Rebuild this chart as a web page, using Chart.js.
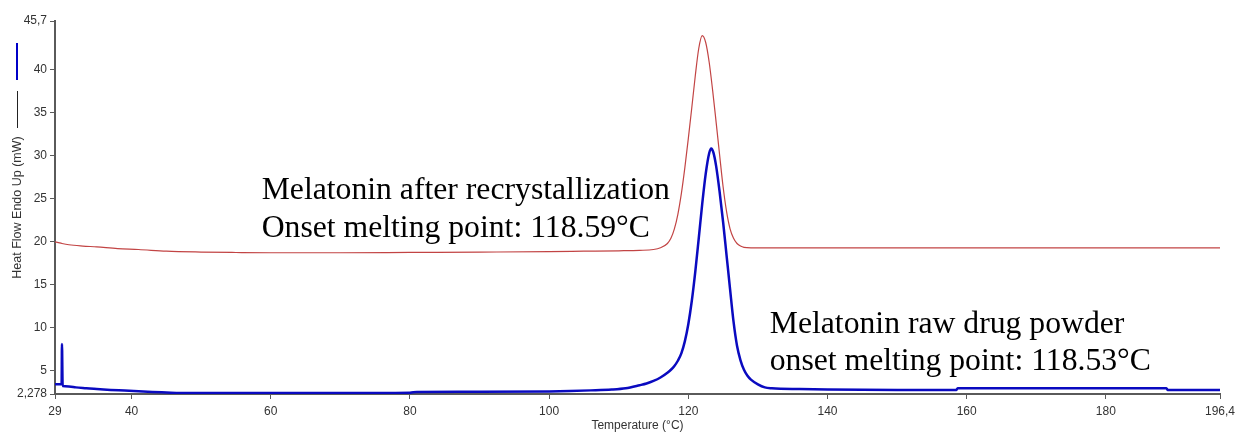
<!DOCTYPE html>
<html>
<head>
<meta charset="utf-8">
<script src="https://cdn.jsdelivr.net/npm/chart.js@4.4.1/dist/chart.umd.min.js"></script>
<style>
  html, body { margin: 0; padding: 0; background: #ffffff; }
  #wrap { width: 1237px; height: 432px; position: relative; }
</style>
</head>
<body>
<div id="wrap"><canvas id="c" width="1237" height="432"></canvas></div>
<script>
// ---- data ----
const xTickValues = [29, 40, 60, 80, 100, 120, 140, 160, 180, 196.4];
const yTickValues = [2.278, 5, 10, 15, 20, 25, 30, 35, 40, 45.7];

const recrystTemp = [29, 29.5, 30, 31, 33, 35, 38, 41, 45, 50, 55, 60, 70, 80, 90, 100, 105, 110, 113, 115, 116, 117, 117.5, 118, 118.5, 119, 119.5, 120, 120.5, 121, 121.5, 122, 122.5, 123, 123.5, 124, 124.5, 125, 125.5, 126, 126.5, 127, 127.5, 128, 129, 130, 140, 160, 180, 196.4];
const recrystHeat = [20.0, 19.9, 19.8, 19.65, 19.5, 19.4, 19.2, 19.1, 18.9, 18.8, 18.75, 18.72, 18.72, 18.76, 18.8, 18.85, 18.9, 18.95, 19.0, 19.1, 19.3, 19.8, 20.4, 21.5, 23.2, 25.6, 28.6, 32.0, 35.6, 39.3, 42.5, 44.0, 43.2, 40.9, 37.6, 33.9, 30.1, 26.4, 23.5, 21.5, 20.4, 19.8, 19.5, 19.35, 19.3, 19.3, 19.3, 19.3, 19.3, 19.3];

const rawTemp = [29, 29.95, 30.0, 30.1, 31, 32, 33.5, 35, 37, 39, 41, 43, 45, 47, 55, 65, 75, 80, 81, 90, 100, 103, 106, 109, 111, 113, 114, 115, 116, 117, 117.5, 118, 118.5, 119, 119.5, 120, 120.5, 121, 121.5, 122, 122.5, 123, 123.3, 123.6, 124, 124.5, 125, 125.5, 126, 126.5, 127, 127.5, 128, 128.5, 129, 130, 131, 132, 136, 140, 150, 158.5, 158.7, 188.7, 188.9, 196.4];
const rawHeat = [3.4, 3.4, 8.1, 3.2, 3.15, 3.05, 2.95, 2.85, 2.75, 2.68, 2.6, 2.52, 2.46, 2.4, 2.4, 2.4, 2.4, 2.42, 2.52, 2.53, 2.58, 2.63, 2.7, 2.8, 2.95, 3.3, 3.5, 3.8, 4.2, 4.75, 5.1, 5.55, 6.15, 7.0, 8.4, 10.4, 13.1, 16.5, 20.4, 24.4, 27.9, 30.3, 30.85, 30.4, 28.8, 25.8, 22.3, 18.4, 14.5, 10.7, 7.9, 6.2, 5.1, 4.4, 3.95, 3.4, 3.05, 2.95, 2.85, 2.8, 2.75, 2.75, 2.95, 2.95, 2.75, 2.75];

const recrystLabel = ["Melatonin after recrystallization", "Onset melting point: 118.59°C"];
const rawLabel = ["Melatonin raw drug powder", "onset melting point: 118.53°C"];
const xTitle = "Temperature (°C)";
const yTitle = "Heat Flow Endo Up (mW)";

// ---- build ----
const toPts = (xs, ys) => xs.map((x, i) => ({ x: x, y: ys[i] }));
const fmt = v => String(v).replace('.', ',');

const annotations = [
  { lines: recrystLabel, x: 58.7, y: 25.9 },
  { lines: rawLabel, x: 131.7, y: 10.4 }
];

const annotPlugin = {
  id: 'annot',
  afterDatasetsDraw(chart) {
    const ctx = chart.ctx;
    const xs = chart.scales.x, ys = chart.scales.y;
    ctx.save();
    ctx.fillStyle = '#000';
    ctx.font = '31.7px "Liberation Serif", "Times New Roman", serif';
    ctx.textBaseline = 'middle';
    ctx.textAlign = 'left';
    annotations.forEach(a => {
      const px = xs.getPixelForValue(a.x);
      const py = ys.getPixelForValue(a.y);
      a.lines.forEach((t, i) => ctx.fillText(t, px, py + i * 37.5));
    });
    ctx.restore();
  },
  afterDraw(chart) {
    // legend marks beside the y-axis title
    const ctx = chart.ctx;
    ctx.save();
    ctx.lineCap = 'butt';
    ctx.strokeStyle = '#0000c8';
    ctx.lineWidth = 2;
    ctx.beginPath(); ctx.moveTo(17, 43); ctx.lineTo(17, 80); ctx.stroke();
    ctx.strokeStyle = '#222';
    ctx.lineWidth = 1;
    ctx.beginPath(); ctx.moveTo(17.5, 91); ctx.lineTo(17.5, 128); ctx.stroke();
    ctx.restore();
  }
};

const tickFont = { family: 'Liberation Sans, Arial', size: 12 };

new Chart(document.getElementById('c'), {
  type: 'line',
  data: {
    datasets: [
      {
        label: 'Melatonin after recrystallization',
        data: toPts(recrystTemp, recrystHeat),
        borderColor: '#c24444',
        borderWidth: 1.2,
        pointRadius: 0,
        fill: false,
        cubicInterpolationMode: 'monotone'
      },
      {
        label: 'Melatonin raw drug powder',
        data: toPts(rawTemp, rawHeat),
        borderColor: '#0a0ac0',
        borderWidth: 2.5,
        pointRadius: 0,
        fill: false,
        cubicInterpolationMode: 'monotone'
      }
    ]
  },
  options: {
    responsive: false,
    animation: false,
    layout: { padding: { top: 21, right: 17, left: 0, bottom: 0 } },
    plugins: { legend: { display: false }, tooltip: { enabled: false } },
    scales: {
      x: {
        type: 'linear',
        min: 29, max: 196.4,
        afterBuildTicks: s => { s.ticks = xTickValues.map(v => ({ value: v })); },
        afterFit: s => { s.height = 38; s.paddingRight = 0; s.paddingLeft = 0; },
        grid: { drawOnChartArea: false, drawTicks: true, tickLength: 5, color: '#5a5a5a' },
        border: { color: '#5a5a5a', width: 2 },
        ticks: { callback: v => fmt(v), color: '#333', font: tickFont, maxRotation: 0, autoSkip: false, padding: 5 },
        title: { display: true, text: xTitle, color: '#333', font: tickFont, padding: { top: 0, bottom: -1 } }
      },
      y: {
        type: 'linear',
        min: 2.278, max: 45.7,
        afterBuildTicks: s => { s.ticks = yTickValues.map(v => ({ value: v })); },
        afterFit: s => { s.width = 55; },
        grid: { drawOnChartArea: false, drawTicks: true, tickLength: 5, color: '#5a5a5a' },
        border: { color: '#5a5a5a', width: 2 },
        ticks: { callback: v => fmt(v), color: '#333', font: tickFont, autoSkip: false, padding: 3 },
        title: { display: true, text: yTitle, color: '#333', font: { family: 'Liberation Sans, Arial', size: 12.5 }, padding: { top: 10, bottom: 0 } }
      }
    }
  },
  plugins: [annotPlugin]
});
</script>
</body>
</html>
